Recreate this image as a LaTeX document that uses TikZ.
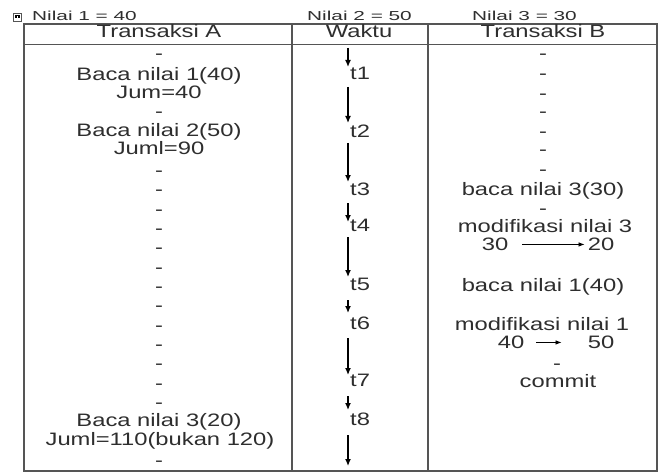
\documentclass[tikz,border=0pt]{standalone}
\usepackage{fontspec}
\setmainfont[FakeStretch=1.32]{Liberation Sans}
\newfontfamily\topfont[FakeStretch=1.6]{Liberation Sans}
\usetikzlibrary{arrows.meta}
\definecolor{txtc}{HTML}{2E2E2E}
\definecolor{linec}{HTML}{555555}
\begin{document}
\begin{tikzpicture}[x=1pt,y=-1pt,
  txt/.style={inner sep=0pt, anchor=mid, text=txtc, font=\fontsize{18}{20}\selectfont},
  toplbl/.style={inner sep=0pt, anchor=base west, text=txtc, font=\topfont\fontsize{13}{15}\selectfont},
  tlbl/.style={inner sep=0pt, anchor=mid west, text=txtc, font=\fontsize{18}{20}\selectfont},
  tbl/.style={draw=linec, line width=1.4pt},
  tarrow/.style={draw=black, line width=1.3pt, -{Latex[length=7pt,width=6pt]}},
  barrow/.style={draw=black, line width=0.8pt, -{Latex[length=6pt,width=4.5pt]}}]
\useasboundingbox (0,0) rectangle (660,473);
\fill[white] (0,0) rectangle (660,473);

% handle icon
\draw[linec, line width=0.8pt] (13,13) rectangle (21,21);
\fill[black] (14.5,15.5) rectangle (19.5,18.5);
\fill[white] (16.5,16.3) rectangle (17.5,17.7);

% top labels
\node[toplbl] (n1) at (32,21) {Nilai 1 = 40};
\node[toplbl] (n2) at (307,21) {Nilai 2 = 50};
\node[toplbl] (n3) at (472,21) {Nilai 3 = 30};

% table
\draw[tbl] (24,24) rectangle (657,471);
\draw[tbl] (24,44.5) -- (657,44.5);
\draw[tbl] (292,24) -- (292,471);
\draw[tbl] (428,24) -- (428,471);

% headers
\node[txt] (hA) at (159,35) {Transaksi A};
\node[txt] (hW) at (359,35) {Waktu};
\node[txt] (hB) at (543,35) {Transaksi B};

% column A
\foreach \y [count=\i] in {57,115,174,193,213,232,251,271,290,309,329,348,367,387,406,464}
  \node[txt] (da\i) at (159,\y) {-};
\node[txt] (a1) at (159,78) {Baca nilai 1(40)};
\node[txt] (a2) at (159,96) {Jum=40};
\node[txt] (a3) at (159,134) {Baca nilai 2(50)};
\node[txt] (a4) at (159,152) {Juml=90};
\node[txt] (a5) at (159,424) {Baca nilai 3(20)};
\node[txt] (a6) at (160,443) {Juml=110(bukan 120)};

% column B
\foreach \y [count=\i] in {57,77,97,115,135,153,173,212}
  \node[txt] (db\i) at (543,\y) {-};
\node[txt] (db9) at (557,367) {-};
\node[txt] (b1) at (543,193) {baca nilai 3(30)};
\node[txt] (b2) at (545,230) {modifikasi nilai 3};
\node[txt] (b30) at (495,248) {30};
\node[txt] (b20) at (601,248) {20};
\node[txt] (b3) at (543,289) {baca nilai 1(40)};
\node[txt] (b4) at (542,328) {modifikasi nilai 1};
\node[txt] (b40) at (511,346) {40};
\node[txt] (b50) at (601,346) {50};
\node[txt] (b5) at (558,385) {commit};
\draw[barrow, shorten <=14pt, shorten >=3pt] (b30.east) -- (b20.west);
\draw[barrow, shorten <=12pt, shorten >=26pt] (b40.east) -- (b50.west);

% Waktu column
\foreach \n/\y in {1/77,2/135,3/193,4/229,5/288,6/327,7/384,8/423}
  \node[tlbl] (t\n) at (350,\y) {t\n};
\foreach \n/\s/\e in {0/48/67,1/87/123,2/143/182,3/203/222,4/237/277,5/300/313,6/338/375,7/396/410,8/435/466}{
  \coordinate (ws\n) at (348,\s);
  \coordinate (we\n) at (348,\e);
  \draw[tarrow] (ws\n) -- (we\n);
}
\end{tikzpicture}
\end{document}
